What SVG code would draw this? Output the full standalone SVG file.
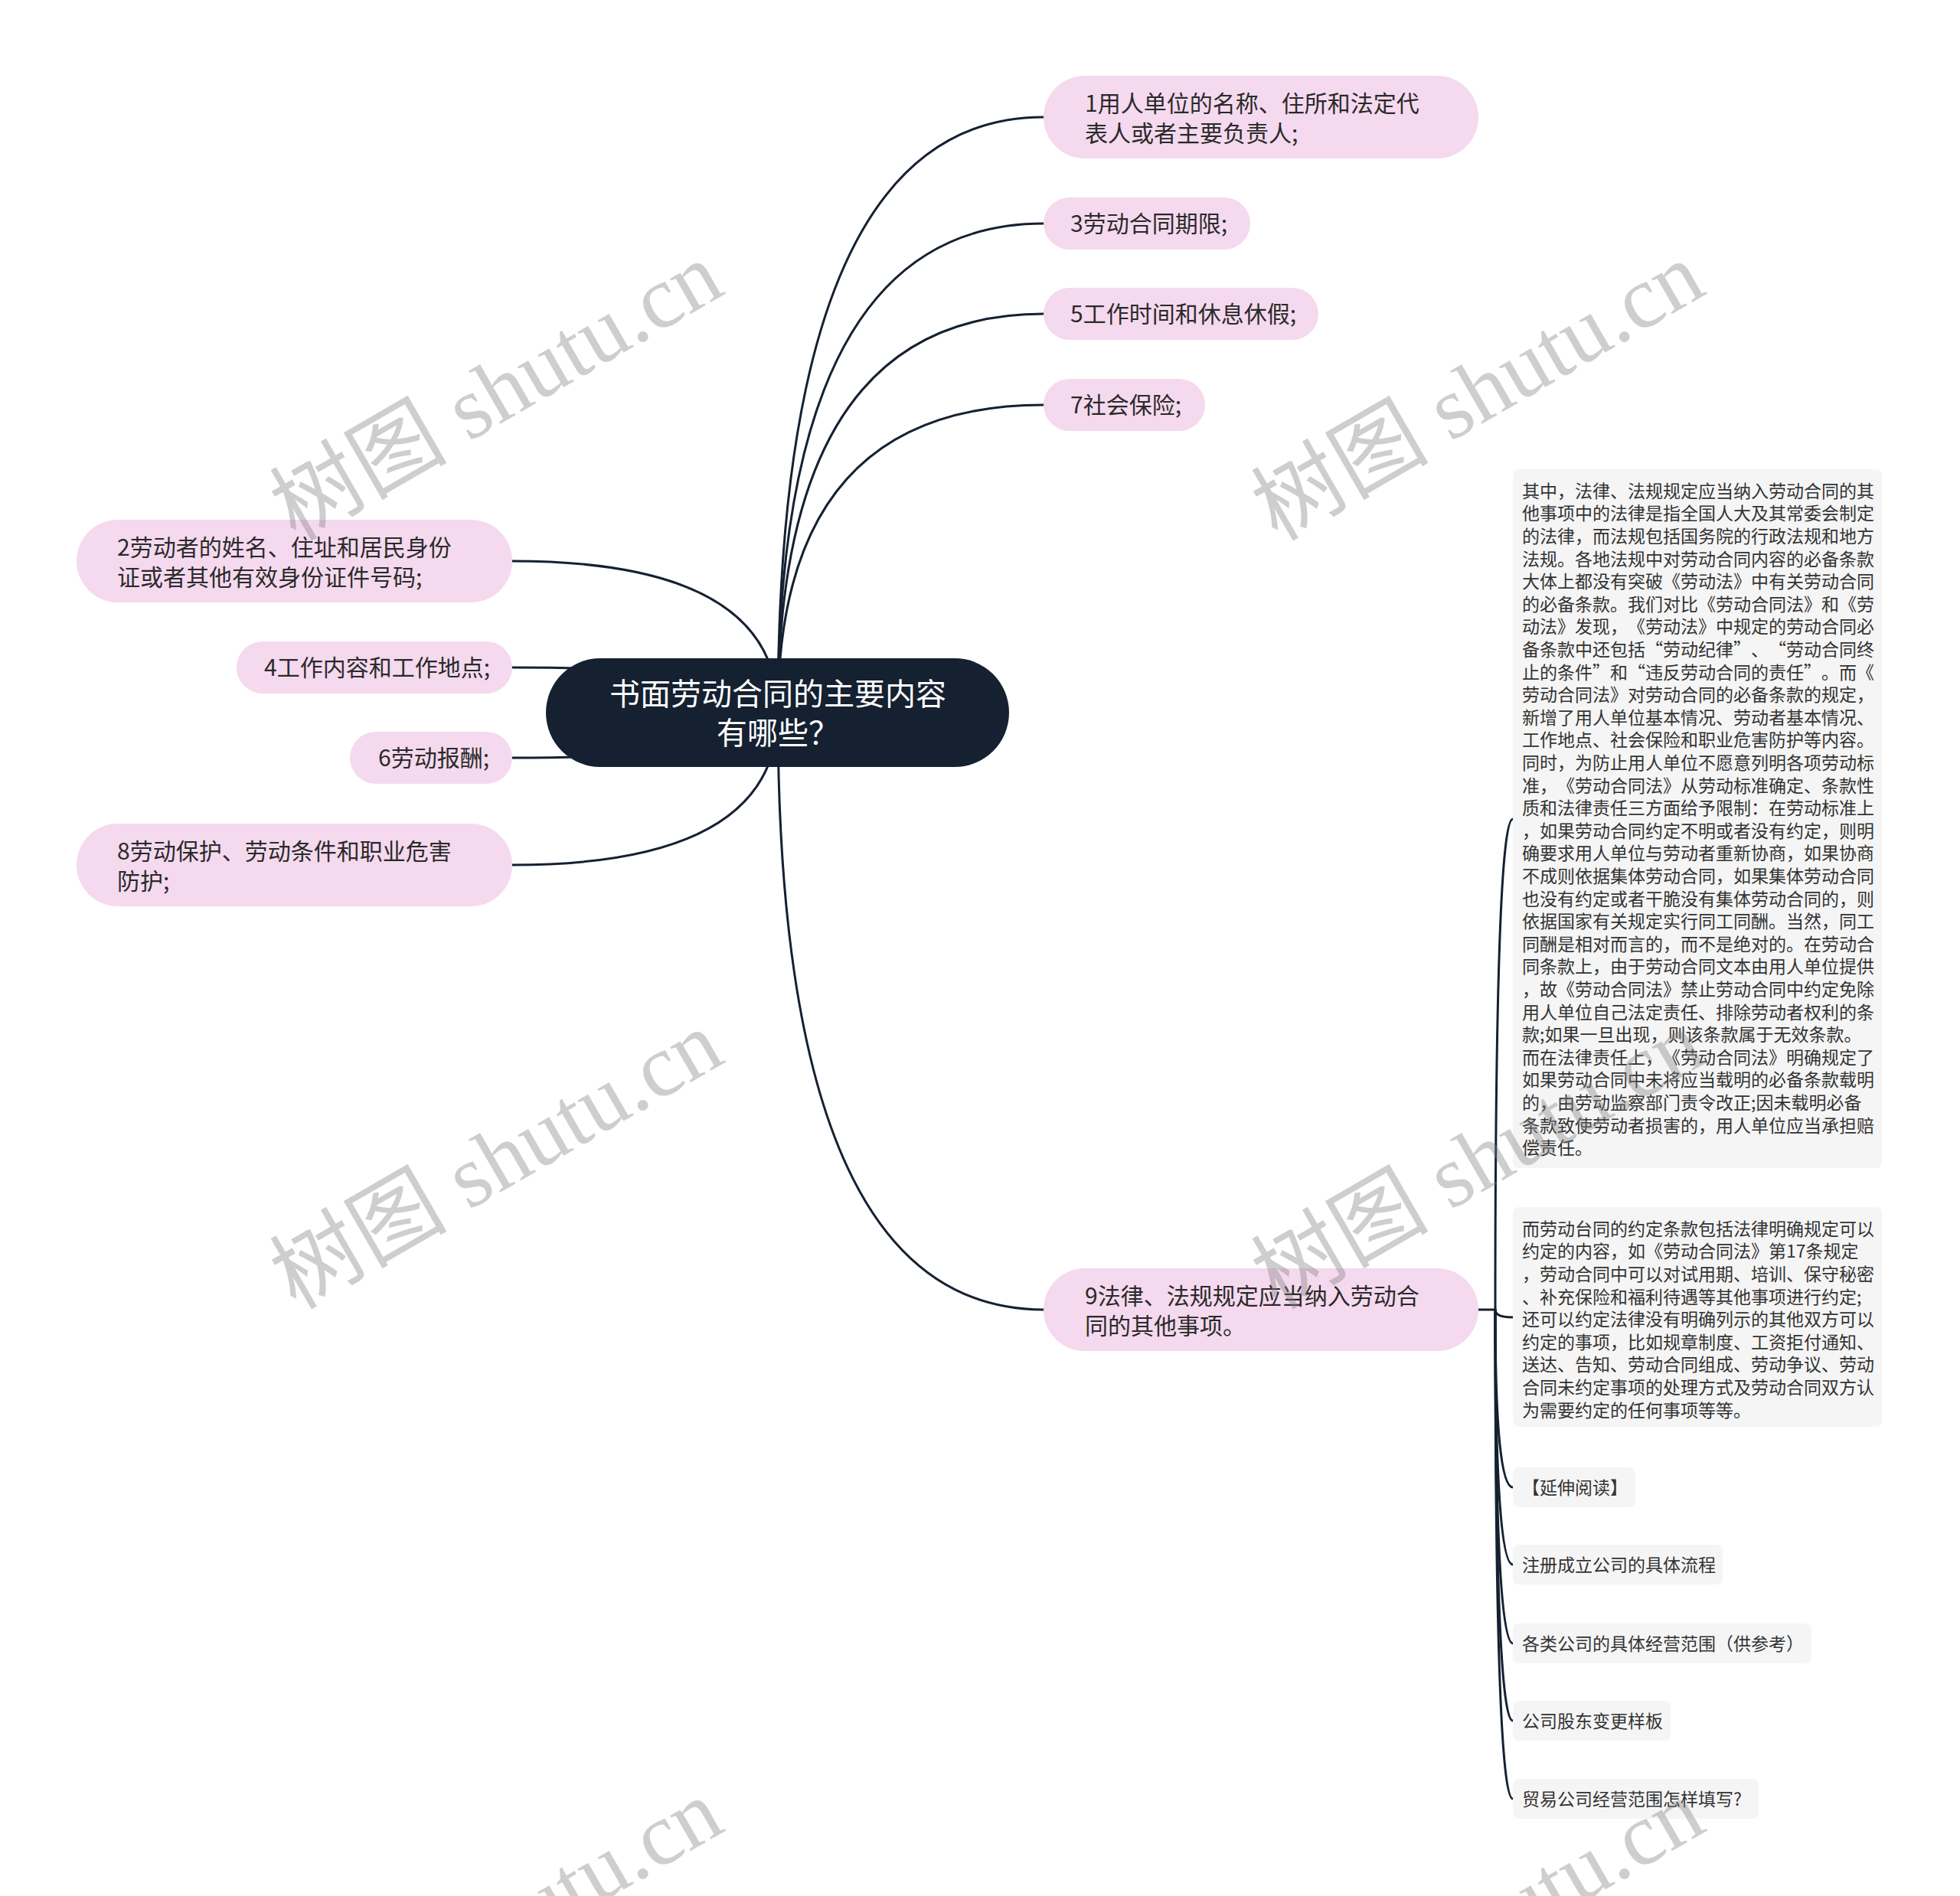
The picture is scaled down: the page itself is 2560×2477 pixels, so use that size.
<svg xmlns="http://www.w3.org/2000/svg" width="2560" height="2477" viewBox="0 0 2560 2477">
<style>
text{text-spacing-trim:space-all}
.bg{fill:#ffffff}
.conn{fill:none;stroke:#152131;stroke-width:3;stroke-linecap:round}
.root{fill:#152131}
.rootText{fill:#ffffff;font-family:"Noto Sans CJK SC","Noto Sans",sans-serif;font-size:40px;text-anchor:middle}
.pink{fill:#f5d9ee}
.pinkText{fill:#2a2a2a;font-family:"Noto Sans CJK SC","Noto Sans",sans-serif;font-size:30px}
.gray{fill:#f5f5f5}
.grayText{fill:#333333;font-family:"Noto Sans CJK SC","Noto Sans",sans-serif;font-size:23px}
.wm{fill:#808080;opacity:0.38;font-family:"Liberation Serif","Noto Sans CJK SC",serif;font-size:116px}
</style>
<rect class="bg" x="0" y="0" width="2560" height="2477"/>
<g id="connectors">
<path class="conn" d="M1016,931 Q1016,153 1363,153"/>
<path class="conn" d="M1016,931 Q1016,292 1363,292"/>
<path class="conn" d="M1016,931 Q1016,410 1363,410"/>
<path class="conn" d="M1016,931 Q1016,529 1363,529"/>
<path class="conn" d="M1016,931 Q1016,1711 1363,1711"/>
<path class="conn" d="M1016,931 Q1016,733 669,733"/>
<path class="conn" d="M1016,931 Q1016,872 669,872"/>
<path class="conn" d="M1016,931 Q1016,990 669,990"/>
<path class="conn" d="M1016,931 Q1016,1130 669,1130"/>
<path class="conn" d="M1931,1711 H1953"/>
<path class="conn" d="M1953,1711 Q1953,1070 1976,1070"/>
<path class="conn" d="M1953,1711 Q1953,1721 1976,1721"/>
<path class="conn" d="M1953,1711 Q1953,1943 1976,1943"/>
<path class="conn" d="M1953,1711 Q1953,2044 1976,2044"/>
<path class="conn" d="M1953,1711 Q1953,2147 1976,2147"/>
<path class="conn" d="M1953,1711 Q1953,2248 1976,2248"/>
<path class="conn" d="M1953,1711 Q1953,2350 1976,2350"/>
</g>
<g id="root">
<rect class="root" x="713" y="860" width="605" height="142" rx="71"/>
<text class="rootText" x="1016" y="921">书面劳动合同的主要内容</text>
<text class="rootText" x="1016" y="972">有哪些？</text>
</g>
<g id="n1">
<rect class="pink" x="1363" y="99" width="568" height="108" rx="54"/>
<text class="pinkText" x="1417" y="146">1用人单位的名称、住所和法定代</text>
<text class="pinkText" x="1417" y="185">表人或者主要负责人;</text>
</g>
<g id="n3">
<rect class="pink" x="1363" y="258" width="270" height="68" rx="34"/>
<text class="pinkText" x="1398" y="303">3劳动合同期限;</text>
</g>
<g id="n5">
<rect class="pink" x="1363" y="376" width="359" height="68" rx="34"/>
<text class="pinkText" x="1398" y="421">5工作时间和休息休假;</text>
</g>
<g id="n7">
<rect class="pink" x="1363" y="495" width="211" height="68" rx="34"/>
<text class="pinkText" x="1398" y="540">7社会保险;</text>
</g>
<g id="n9">
<rect class="pink" x="1363" y="1657" width="568" height="108" rx="54"/>
<text class="pinkText" x="1417" y="1704">9法律、法规规定应当纳入劳动合</text>
<text class="pinkText" x="1417" y="1743">同的其他事项。</text>
</g>
<g id="n2">
<rect class="pink" x="100" y="679" width="569" height="108" rx="54"/>
<text class="pinkText" x="153" y="726">2劳动者的姓名、住址和居民身份</text>
<text class="pinkText" x="153" y="765">证或者其他有效身份证件号码;</text>
</g>
<g id="n4">
<rect class="pink" x="309" y="838" width="360" height="68" rx="34"/>
<text class="pinkText" x="345" y="883">4工作内容和工作地点;</text>
</g>
<g id="n6">
<rect class="pink" x="457" y="956" width="212" height="68" rx="34"/>
<text class="pinkText" x="494" y="1001">6劳动报酬;</text>
</g>
<g id="n8">
<rect class="pink" x="100" y="1076" width="569" height="108" rx="54"/>
<text class="pinkText" x="153" y="1123">8劳动保护、劳动条件和职业危害</text>
<text class="pinkText" x="153" y="1162">防护;</text>
</g>
<g id="d1">
<rect class="gray" x="1976" y="613" width="482" height="913" rx="8"/>
<text class="grayText">
<tspan x="1988" y="649.7">其中，法律、法规规定应当纳入劳动合同的其</tspan>
<tspan x="1988" y="679.3">他事项中的法律是指全国人大及其常委会制定</tspan>
<tspan x="1988" y="708.9">的法律，而法规包括国务院的行政法规和地方</tspan>
<tspan x="1988" y="738.5">法规。各地法规中对劳动合同内容的必备条款</tspan>
<tspan x="1988" y="768.1">大体上都没有突破《劳动法》中有关劳动合同</tspan>
<tspan x="1988" y="797.7">的必备条款。我们对比《劳动合同法》和《劳</tspan>
<tspan x="1988" y="827.3">动法》发现，《劳动法》中规定的劳动合同必</tspan>
<tspan x="1988" y="856.9">备条款中还包括“劳动纪律”、“劳动合同终</tspan>
<tspan x="1988" y="886.5">止的条件”和“违反劳动合同的责任”。而《</tspan>
<tspan x="1988" y="916.1">劳动合同法》对劳动合同的必备条款的规定，</tspan>
<tspan x="1988" y="945.7">新增了用人单位基本情况、劳动者基本情况、</tspan>
<tspan x="1988" y="975.3">工作地点、社会保险和职业危害防护等内容。</tspan>
<tspan x="1988" y="1004.9">同时，为防止用人单位不愿意列明各项劳动标</tspan>
<tspan x="1988" y="1034.5">准，《劳动合同法》从劳动标准确定、条款性</tspan>
<tspan x="1988" y="1064.1">质和法律责任三方面给予限制：在劳动标准上</tspan>
<tspan x="1988" y="1093.7">，如果劳动合同约定不明或者没有约定，则明</tspan>
<tspan x="1988" y="1123.3">确要求用人单位与劳动者重新协商，如果协商</tspan>
<tspan x="1988" y="1152.9">不成则依据集体劳动合同，如果集体劳动合同</tspan>
<tspan x="1988" y="1182.5">也没有约定或者干脆没有集体劳动合同的，则</tspan>
<tspan x="1988" y="1212.1">依据国家有关规定实行同工同酬。当然，同工</tspan>
<tspan x="1988" y="1241.7">同酬是相对而言的，而不是绝对的。在劳动合</tspan>
<tspan x="1988" y="1271.3">同条款上，由于劳动合同文本由用人单位提供</tspan>
<tspan x="1988" y="1300.9">，故《劳动合同法》禁止劳动合同中约定免除</tspan>
<tspan x="1988" y="1330.5">用人单位自己法定责任、排除劳动者权利的条</tspan>
<tspan x="1988" y="1360.1">款;如果一旦出现，则该条款属于无效条款。</tspan>
<tspan x="1988" y="1389.7">而在法律责任上，《劳动合同法》明确规定了</tspan>
<tspan x="1988" y="1419.3">如果劳动合同中未将应当载明的必备条款载明</tspan>
<tspan x="1988" y="1448.9">的，由劳动监察部门责令改正;因未载明必备</tspan>
<tspan x="1988" y="1478.5">条款致使劳动者损害的，用人单位应当承担赔</tspan>
<tspan x="1988" y="1508.1">偿责任。</tspan>
</text>
</g>
<g id="d2">
<rect class="gray" x="1976" y="1577" width="482" height="287" rx="8"/>
<text class="grayText">
<tspan x="1988" y="1613.7">而劳动台同的约定条款包括法律明确规定可以</tspan>
<tspan x="1988" y="1643.3">约定的内容，如《劳动合同法》第17条规定</tspan>
<tspan x="1988" y="1672.9">，劳动合同中可以对试用期、培训、保守秘密</tspan>
<tspan x="1988" y="1702.5">、补充保险和福利待遇等其他事项进行约定;</tspan>
<tspan x="1988" y="1732.1">还可以约定法律没有明确列示的其他双方可以</tspan>
<tspan x="1988" y="1761.7">约定的事项，比如规章制度、工资拒付通知、</tspan>
<tspan x="1988" y="1791.3">送达、告知、劳动合同组成、劳动争议、劳动</tspan>
<tspan x="1988" y="1820.9">合同未约定事项的处理方式及劳动合同双方认</tspan>
<tspan x="1988" y="1850.5">为需要约定的任何事项等等。</tspan>
</text>
</g>
<g id="d3">
<rect class="gray" x="1976" y="1917" width="160" height="52" rx="8"/>
<text class="grayText" x="1988" y="1951.7">【延伸阅读】</text>
</g>
<g id="d4">
<rect class="gray" x="1976" y="2018" width="274" height="52" rx="8"/>
<text class="grayText" x="1988" y="2052.7">注册成立公司的具体流程</text>
</g>
<g id="d5">
<rect class="gray" x="1976" y="2121" width="390" height="52" rx="8"/>
<text class="grayText" x="1988" y="2155.7">各类公司的具体经营范围（供参考）</text>
</g>
<g id="d6">
<rect class="gray" x="1976" y="2222" width="206" height="52" rx="8"/>
<text class="grayText" x="1988" y="2256.7">公司股东变更样板</text>
</g>
<g id="d7">
<rect class="gray" x="1976" y="2324" width="321" height="52" rx="8"/>
<text class="grayText" x="1988" y="2358.7">贸易公司经营范围怎样填写?</text>
</g>
<g id="watermark">
<text class="wm" transform="translate(386,708) rotate(-30)">树图 shutu.cn</text>
<text class="wm" transform="translate(1668,708) rotate(-30)">树图 shutu.cn</text>
<text class="wm" transform="translate(386,1712) rotate(-30)">树图 shutu.cn</text>
<text class="wm" transform="translate(1668,1712) rotate(-30)">树图 shutu.cn</text>
<text class="wm" transform="translate(386,2716) rotate(-30)">树图 shutu.cn</text>
<text class="wm" transform="translate(1668,2716) rotate(-30)">树图 shutu.cn</text>
</g>
</svg>
